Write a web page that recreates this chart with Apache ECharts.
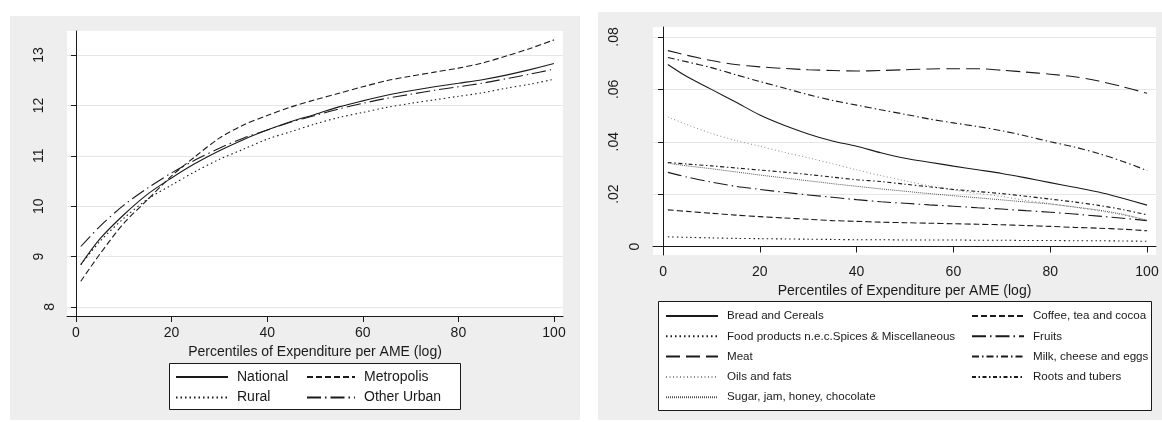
<!DOCTYPE html>
<html>
<head>
<meta charset="utf-8">
<script src="https://cdn.jsdelivr.net/npm/echarts@6/dist/echarts.min.js"></script>
<style>
html, body { margin: 0; padding: 0; background: #fff; }
#chart { width: 1162px; height: 422px; }
</style>
</head>
<body>
<div id="chart"></div>
<script>
const pctl = [1, 5, 10, 15, 20, 25, 30, 35, 40, 45, 50, 55, 60, 65, 70, 75, 80, 85, 90, 95, 100];

// left panel: log expenditure per AME
const nationalVals   = [8.84, 9.35, 9.83, 10.24, 10.56, 10.85, 11.10, 11.32, 11.51, 11.68, 11.82, 11.97, 12.09, 12.20, 12.29, 12.37, 12.44, 12.51, 12.60, 12.71, 12.83];
const metropolisVals = [8.51, 9.05, 9.66, 10.13, 10.60, 10.99, 11.35, 11.61, 11.80, 11.97, 12.11, 12.24, 12.37, 12.49, 12.58, 12.66, 12.74, 12.84, 12.98, 13.13, 13.30];
const ruralVals      = [8.84, 9.30, 9.76, 10.14, 10.42, 10.69, 10.93, 11.13, 11.33, 11.48, 11.63, 11.76, 11.86, 11.96, 12.04, 12.11, 12.18, 12.25, 12.34, 12.42, 12.52];
const otherUrbanVals = [9.20, 9.60, 10.02, 10.36, 10.66, 10.92, 11.15, 11.35, 11.51, 11.67, 11.80, 11.93, 12.04, 12.14, 12.22, 12.30, 12.37, 12.44, 12.53, 12.62, 12.72];

// right panel: budget shares
const breadVals  = [.0695, .0648, .0600, .0552, .0502, .0463, .0430, .0403, .0383, .0358, .0337, .0322, .0307, .0293, .0279, .0262, .0244, .0226, .0208, .0184, .0158];
const coffeeVals = [.0140, .0134, .0127, .0120, .0114, .0109, .0104, .0099, .0096, .0093, .0091, .0089, .0087, .0085, .0083, .0080, .0077, .0073, .0070, .0066, .0060];
const foodVals   = [.0037, .0035, .0033, .0031, .0030, .0029, .0028, .0027, .0026, .0026, .0025, .0025, .0025, .0024, .0024, .0023, .0023, .0022, .0022, .0021, .0020];
const fruitVals  = [.0283, .0265, .0246, .0230, .0218, .0207, .0197, .0188, .0179, .0171, .0165, .0159, .0154, .0148, .0143, .0137, .0131, .0124, .0116, .0108, .0099];
const meatVals   = [.0748, .0730, .0710, .0695, .0686, .0680, .0675, .0672, .0670, .0672, .0675, .0678, .0679, .0679, .0673, .0666, .0658, .0648, .0632, .0610, .0585];
const milkVals   = [.0722, .0705, .0683, .0656, .0630, .0605, .0580, .0558, .0540, .0522, .0505, .0487, .0472, .0458, .0442, .0422, .0400, .0380, .0355, .0325, .0290];
const oilsVals   = [.0495, .0465, .0432, .0405, .0383, .0360, .0339, .0316, .0293, .0271, .0251, .0232, .0216, .0203, .0191, .0176, .0164, .0150, .0136, .0120, .0100];
const rootsVals  = [.0321, .0315, .0308, .0300, .0292, .0284, .0275, .0265, .0255, .0248, .0238, .0228, .0218, .0210, .0202, .0192, .0181, .0170, .0157, .0141, .0121];
const sugarVals  = [.0318, .0308, .0297, .0285, .0273, .0262, .0251, .0240, .0230, .0220, .0211, .0202, .0194, .0186, .0178, .0170, .0162, .0151, .0139, .0123, .0100];

const xTicks   = [0, 20, 40, 60, 80, 100];
const yTicksL  = [8, 9, 10, 11, 12, 13];
const yTicksR  = [0, 0.02, 0.04, 0.06, 0.08];
const yLabelsR = ['0', '.02', '.04', '.06', '.08'];

const xTitle = 'Percentiles of Expenditure per AME (log)';
const FONT = "'Liberation Sans', Arial, sans-serif";
const INK = '#1a1a1a';

const chart = echarts.init(document.getElementById('chart'));

function pairs(vals) {
    return pctl.map(function (p, i) { return [p, vals[i]]; });
}

function mkLine(name, vals, gi, dash, color, width) {
    return {
        name: name,
        type: 'line',
        xAxisIndex: gi,
        yAxisIndex: gi,
        data: pairs(vals),
        smooth: 0.3,
        symbol: 'none',
        showSymbol: false,
        silent: true,
        lineStyle: { color: color || INK, width: width || 1.1, type: dash },
        itemStyle: { color: color || INK }
    };
}

function xAxisCfg(gi, min, max) {
    return {
        type: 'value', gridIndex: gi, min: min, max: max,
        axisLine: { show: true, lineStyle: { color: INK, width: 1 } },
        axisTick: { show: true, length: 6, customValues: xTicks, lineStyle: { color: INK } },
        axisLabel: { customValues: xTicks, margin: 10, fontSize: 14, fontFamily: FONT, color: INK },
        splitLine: { show: false },
        name: xTitle, nameLocation: 'middle', nameGap: 24,
        nameTextStyle: { fontSize: 14, fontFamily: FONT, color: INK }
    };
}

function yAxisCfg(gi, min, max, ticks, fmt, pad, margin) {
    return {
        type: 'value', gridIndex: gi, min: min, max: max,
        axisLine: { show: true, lineStyle: { color: INK, width: 1 } },
        axisTick: { show: true, length: 5, customValues: ticks, lineStyle: { color: INK } },
        axisLabel: {
            customValues: ticks, rotate: 90, margin: margin,
            fontSize: 14, fontFamily: FONT, color: INK,
            formatter: function (v) {
                const s = fmt(v);
                return Math.abs(v - ticks[0]) < 1e-9 ? '{z|' + s + '}' : '{n|' + s + '}';
            },
            rich: {
                n: { fontSize: 14, fontFamily: FONT, color: INK, padding: [0, 0, pad, 0] },
                z: { fontSize: 14, fontFamily: FONT, color: INK }
            }
        },
        splitLine: { show: true, lineStyle: { color: '#e6e6e6', width: 1 } }
    };
}

// legend keys are line samples only, so the marker of the line icon is made invisible
function legendCol(names, left, top, w, fs, gap) {
    return {
        data: names, orient: 'vertical', left: left, top: top, padding: 0,
        itemWidth: w, itemHeight: 14, itemGap: gap,
        selectedMode: false,
        itemStyle: { color: 'rgba(0,0,0,0)', borderWidth: 0, borderColor: 'rgba(0,0,0,0)' },
        textStyle: { fontSize: fs, fontFamily: FONT, color: INK, padding: [0, 0, 0, 4] }
    };
}

const option = {
    animation: false,
    backgroundColor: '#fff',
    graphic: [
        { type: 'rect', z: -10, shape: { x: 10, y: 16, width: 570, height: 404 }, style: { fill: '#eeeeee' } },
        { type: 'rect', z: -10, shape: { x: 598, y: 12, width: 564, height: 408 }, style: { fill: '#eeeeee' } },
        { type: 'rect', z: 1, shape: { x: 169.5, y: 363.5, width: 291, height: 46 }, style: { fill: '#fff', stroke: INK, lineWidth: 1 } },
        { type: 'rect', z: 1, shape: { x: 658.5, y: 301.5, width: 493, height: 109 }, style: { fill: '#fff', stroke: INK, lineWidth: 1 } }
    ],
    grid: [
        { left: 67, top: 31, width: 496, height: 285, show: true, backgroundColor: '#fff', borderWidth: 0 },
        { left: 653, top: 27, width: 503, height: 228, show: true, backgroundColor: '#fff', borderWidth: 0 }
    ],
    xAxis: [
        xAxisCfg(0, -1.88, 101.88),
        xAxisCfg(1, -2.07, 101.86)
    ],
    yAxis: [
        yAxisCfg(0, 7.821, 13.476, yTicksL, function (v) { return String(v); }, 11, 10),
        yAxisCfg(1, -0.00324, 0.08382, yTicksR, function (v) {
            const k = yTicksR.findIndex(function (t) { return Math.abs(t - v) < 1e-9; });
            return k >= 0 ? yLabelsR[k] : '';
        }, 21, 11)
    ],
    legend: [
        legendCol(['National', 'Rural'], 175, 370, 52, 14, 6.5),
        legendCol(['Metropolis', 'Other Urban'], 306, 370, 48, 14, 6.5),
        legendCol(['Bread and Cereals', 'Food products n.e.c.Spices & Miscellaneous', 'Meat', 'Oils and fats', 'Sugar, jam, honey, chocolate'], 665, 310, 52, 11.6, 8.3),
        legendCol(['Coffee, tea and cocoa', 'Fruits', 'Milk, cheese and eggs', 'Roots and tubers'], 971, 310, 52, 11.6, 8.3)
    ],
    series: [
        mkLine('National', nationalVals, 0, 'solid'),
        mkLine('Metropolis', metropolisVals, 0, [6, 3]),
        mkLine('Rural', ruralVals, 0, [1.5, 3]),
        mkLine('Other Urban', otherUrbanVals, 0, [14, 4, 1.5, 4]),

        mkLine('Bread and Cereals', breadVals, 1, 'solid'),
        mkLine('Coffee, tea and cocoa', coffeeVals, 1, [6, 3]),
        mkLine('Food products n.e.c.Spices & Miscellaneous', foodVals, 1, [1.5, 3]),
        mkLine('Fruits', fruitVals, 1, [14, 4, 1.5, 4]),
        mkLine('Meat', meatVals, 1, [14, 6]),
        mkLine('Milk, cheese and eggs', milkVals, 1, [7, 3, 1.5, 3]),
        mkLine('Oils and fats', oilsVals, 1, [1, 2.5], '#8c8c8c', 1),
        mkLine('Roots and tubers', rootsVals, 1, [4, 2.5, 1.5, 2.5]),
        mkLine('Sugar, jam, honey, chocolate', sugarVals, 1, [1, 1], '#555555', 1)
    ]
};

chart.setOption(option);
</script>
</body>
</html>
